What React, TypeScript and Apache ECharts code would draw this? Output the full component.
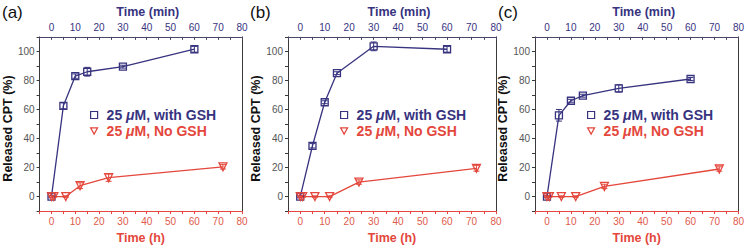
import React, { useEffect, useRef } from "react";
import * as echarts from "echarts";

// ---- data ----
const minutes = [0, 5, 10, 15, 30, 60];
const hours = [0, 1, 6, 12, 24, 72];

const gshA = [0, 62.5, 83, 86, 89.5, 101.5];
const gshErrA = [0.8, 2, 1.5, 3, 1, 2];
const noA = [0, 0, 0, 7.5, 13, 20.5];
const noErrA = [0.5, 0.5, 0.5, 2, 2.5, 1.5];

const gshB = [0, 35, 65, 85, 103.5, 101.5];
const gshErrB = [0.8, 1.5, 1, 1, 3, 2];
const noB = [0, 0, 0, 0, 10, 19.5];
const noErrB = [0.5, 0.5, 0.5, 0.5, 1.5, 2];

const gshC = [0, 56, 66, 69.5, 74.5, 81];
const gshErrC = [0.8, 4, 1, 1, 2.5, 1];
const noC = [0, 0, 0, 0, 7, 19];
const noErrC = [0.5, 0.5, 0.5, 0.5, 1.5, 1.5];

const panelLabels = ["(a)", "(b)", "(c)"];
const seriesNames = ["25 μM, with GSH", "25 μM, No GSH"];
const xTitles = ["Time (h)", "Time (min)"];
const yTitle = "Released CPT (%)";

const panels = [
  { gsh: gshA, gshErr: gshErrA, no: noA, noErr: noErrA },
  { gsh: gshB, gshErr: gshErrB, no: noB, noErr: noErrB },
  { gsh: gshC, gshErr: gshErrC, no: noC, noErr: noErrC },
];

// ---- layout / style ----
const NAVY = "#37337f";
const RED = "#e4473c";
const RED_LABEL = "#e05a4c";
const AXIS_DARK = "#3a3a3a";
const TICK_FONT = "'Liberation Sans Narrow', 'Arial Narrow', 'Liberation Sans', Arial, sans-serif";
const BOLD_FONT = "'Liberation Sans', Arial, sans-serif";

const grids = [
  { left: 37, top: 35, width: 205, height: 180 },
  { left: 288, top: 35, width: 208, height: 180 },
  { left: 535, top: 35, width: 208, height: 180 },
];
const panelLabelX = [2, 250, 498];
const legendLeft = [90, 340, 587];

const tenFmt = (v: number) => (v >= 0 && Math.abs(v % 10) < 1e-9 ? String(v) : "");
const twentyFmt = (v: number) => (v >= 0 && Math.abs(v % 20) < 1e-9 ? String(v) : "");

function errRender(color: string) {
  return (params: any, api: any) => {
    const x = api.value(0);
    const lo = api.coord([x, api.value(1)]);
    const hi = api.coord([x, api.value(2)]);
    const w = 3;
    const style = { stroke: color, lineWidth: 1 };
    return {
      type: "group",
      children: [
        { type: "line", shape: { x1: lo[0], y1: lo[1], x2: hi[0], y2: hi[1] }, style },
        { type: "line", shape: { x1: lo[0] - w, y1: lo[1], x2: lo[0] + w, y2: lo[1] }, style },
        { type: "line", shape: { x1: hi[0] - w, y1: hi[1], x2: hi[0] + w, y2: hi[1] }, style },
      ],
    };
  };
}

function buildOption() {
  const xAxis: any[] = [];
  const yAxis: any[] = [];
  const series: any[] = [];
  const legend: any[] = [];
  const graphic: any[] = [];

  grids.forEach((g, i) => {
    xAxis.push({
      type: "value",
      gridIndex: i,
      position: "bottom",
      min: -5,
      max: 80,
      interval: 5,
      splitLine: { show: false },
      axisLine: { show: true, onZero: false, lineStyle: { color: RED, width: 1 } },
      axisTick: { show: true, inside: false, length: 3, lineStyle: { color: RED } },
      axisLabel: { formatter: tenFmt, color: RED_LABEL, fontSize: 10, fontFamily: TICK_FONT, margin: 5 },
      name: xTitles[0],
      nameLocation: "middle",
      nameGap: 18,
      nameTextStyle: { color: RED, fontWeight: "bold", fontSize: 12.5, fontFamily: BOLD_FONT },
    });
    xAxis.push({
      type: "value",
      gridIndex: i,
      position: "top",
      min: -5,
      max: 80,
      interval: 5,
      splitLine: { show: false },
      axisLine: { show: true, onZero: false, lineStyle: { color: "#4a4868", width: 1 } },
      axisTick: { show: true, inside: true, length: 3, lineStyle: { color: "#4a4868" } },
      axisLabel: { formatter: tenFmt, color: NAVY, fontSize: 10, fontFamily: TICK_FONT, margin: 4 },
      name: xTitles[1],
      nameLocation: "middle",
      nameGap: 18,
      nameTextStyle: { color: NAVY, fontWeight: "bold", fontSize: 12.5, fontFamily: BOLD_FONT, padding: [0, 0, 0, 14] },
    });
    yAxis.push({
      type: "value",
      gridIndex: i,
      position: "left",
      min: -10,
      max: 110,
      interval: 10,
      splitLine: { show: false },
      axisLine: { show: true, onZero: false, lineStyle: { color: AXIS_DARK, width: 1 } },
      axisTick: { show: true, inside: false, length: 3, lineStyle: { color: AXIS_DARK } },
      axisLabel: { formatter: twentyFmt, color: "#555", fontSize: 10, fontFamily: TICK_FONT, margin: 5 },
      name: yTitle,
      nameLocation: "middle",
      nameGap: 19,
      nameTextStyle: { color: "#111", fontWeight: "bold", fontSize: 12.5, fontFamily: BOLD_FONT, padding: [0, 9, 0, 0] },
    });
    yAxis.push({
      type: "value",
      gridIndex: i,
      position: "right",
      min: -10,
      max: 110,
      interval: 10,
      splitLine: { show: false },
      axisLine: { show: true, onZero: false, lineStyle: { color: AXIS_DARK, width: 1 } },
      axisTick: { show: false },
      axisLabel: { show: false },
    });

    const p = panels[i];
    series.push({
      type: "custom",
      name: "gshErr" + i,
      xAxisIndex: 2 * i + 1,
      yAxisIndex: 2 * i,
      renderItem: errRender(NAVY),
      data: minutes.map((m, k) => [m, p.gsh[k] - p.gshErr[k], p.gsh[k] + p.gshErr[k]]),
      z: 2,
    });
    series.push({
      type: "custom",
      name: "noErr" + i,
      xAxisIndex: 2 * i,
      yAxisIndex: 2 * i,
      renderItem: errRender(RED),
      data: hours.map((h, k) => [h, p.no[k] - p.noErr[k], p.no[k] + p.noErr[k]]),
      z: 2,
    });
    series.push({
      type: "line",
      name: seriesNames[0],
      xAxisIndex: 2 * i + 1,
      yAxisIndex: 2 * i,
      data: minutes.map((m, k) => [m, p.gsh[k]]),
      symbol: "rect",
      symbolSize: 7,
      itemStyle: { color: "rgba(255,255,255,0)", borderColor: NAVY, borderWidth: 1.3 },
      lineStyle: { color: NAVY, width: 1.3 },
      z: 3,
    });
    series.push({
      type: "line",
      name: seriesNames[1],
      xAxisIndex: 2 * i,
      yAxisIndex: 2 * i,
      data: hours.map((h, k) => [h, p.no[k]]),
      symbol: "triangle",
      symbolRotate: 180,
      symbolSize: 8,
      itemStyle: { color: "rgba(255,255,255,0)", borderColor: RED, borderWidth: 1.3 },
      lineStyle: { color: RED, width: 1.3 },
      z: 3,
    });

    legend.push({
      orient: "vertical",
      left: legendLeft[i],
      top: 108,
      padding: 0,
      itemGap: 2,
      itemWidth: 7,
      itemHeight: 7,
      selectedMode: false,
      data: [
        { name: seriesNames[0], icon: "rect", itemStyle: { color: "#fff", borderColor: NAVY, borderWidth: 1.2 } },
        { name: seriesNames[1], icon: "path://M0,0L10,0L5,9Z", itemStyle: { color: "#fff", borderColor: RED, borderWidth: 1.2 } },
      ],
      formatter: (name: string) =>
        name === seriesNames[0]
          ? "{b|25 }{bi|μ}{b|M, with GSH}"
          : "{r|25 }{ri|μ}{r|M, No GSH}",
      textStyle: {
        padding: [0, 0, 0, 4],
        lineHeight: 14,
        fontSize: 14,
        rich: {
          b: { color: NAVY, fontWeight: "bold", fontSize: 14, fontFamily: BOLD_FONT, lineHeight: 14 },
          bi: { color: NAVY, fontWeight: "bold", fontStyle: "italic", fontSize: 14, fontFamily: BOLD_FONT, lineHeight: 14 },
          r: { color: RED, fontWeight: "bold", fontSize: 14, fontFamily: BOLD_FONT, lineHeight: 14 },
          ri: { color: RED, fontWeight: "bold", fontStyle: "italic", fontSize: 14, fontFamily: BOLD_FONT, lineHeight: 14 },
        },
      },
    });

    graphic.push({
      type: "text",
      left: panelLabelX[i],
      top: 4,
      style: { text: panelLabels[i], fill: "#111", font: "17px 'Liberation Sans', Arial, sans-serif" },
    });
  });

  return {
    animation: false,
    backgroundColor: "#fff",
    grid: grids.map((g) => ({ ...g, containLabel: false })),
    xAxis,
    yAxis,
    series,
    legend,
    graphic,
  };
}

export default function App() {
  const ref = useRef<HTMLDivElement>(null);
  useEffect(() => {
    if (!ref.current) return;
    const chart = echarts.init(ref.current, null, { renderer: "svg" });
    chart.setOption(buildOption() as any);
    return () => chart.dispose();
  }, []);
  return (
    <div
      ref={ref}
      style={{ position: "fixed", left: 0, top: 0, width: 747, height: 249, background: "#fff" }}
    />
  );
}
